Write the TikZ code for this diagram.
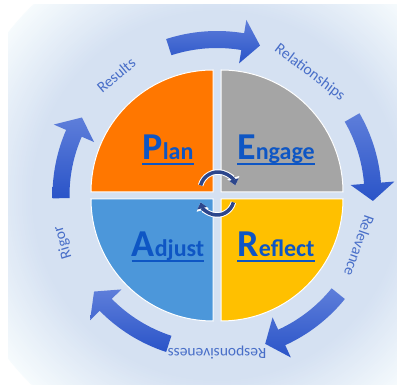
\documentclass[tikz,border=0pt]{standalone}
\usepackage{fontspec}
\usetikzlibrary{arrows.meta}
\newfontfamily\carlito{Carlito}
\definecolor{plancol}{RGB}{255,119,0}
\definecolor{engagecol}{RGB}{165,165,165}
\definecolor{adjustcol}{RGB}{76,151,218}
\definecolor{reflectcol}{RGB}{255,192,0}
\definecolor{wordblue}{RGB}{14,86,196}
\definecolor{lblblue}{RGB}{72,110,200}
\definecolor{arrtop}{RGB}{94,126,218}
\definecolor{arrbot}{RGB}{42,84,200}
\definecolor{turncol}{RGB}{44,70,140}
\definecolor{glowin}{RGB}{213,225,242}
\definecolor{glowout}{RGB}{246,251,253}
\newcommand\bigword[2]{{\fontsize{38}{38}\selectfont #1}{\fontsize{24}{24}\selectfont #2}}
\begin{document}
\begin{tikzpicture}[x=1pt,y=1pt,
  quad/.style={draw=white,line width=1pt},
  bigarrow/.style={top color=arrtop,bottom color=arrbot},
  lbl/.style={text=lblblue,font=\carlito\fontsize{15.5}{15.5}\selectfont,inner sep=0pt},
  word/.style={text=wordblue,font=\carlito\bfseries,inner sep=0pt,anchor=base},
  uline/.style={wordblue,line width=2pt},
  turnhalo/.style={white,line width=5.5pt,-{Triangle[length=8pt,width=12pt]}},
  turn/.style={turncol,line width=3.5pt,-{Triangle[length=6pt,width=9.5pt]}}]
 \useasboundingbox (0,0) rectangle (397,385);
 \fill[white] (0,0) rectangle (397,385);
 \coordinate (c) at (217,189.5);
 \begin{scope}
 \clip (8,0) rectangle (397,380);
 \foreach \i in {0,...,40}{
  \pgfmathsetmacro\r{265-2*\i}
  \pgfmathsetmacro\p{100*\i/40}
  \fill[glowin!\p!glowout] (c) circle (\r);
 }
 \end{scope}
 \draw[quad,fill=plancol] (213,193) -- ++(-122,0) arc[start angle=180,end angle=90,radius=122] -- cycle;
 \draw[quad,fill=engagecol] (221,193) -- ++(0,122) arc[start angle=90,end angle=0,radius=122] -- cycle;
 \draw[quad,fill=adjustcol] (213,186) -- ++(0,-122) arc[start angle=270,end angle=180,radius=122] -- cycle;
 \draw[quad,fill=reflectcol] (221,186) -- ++(122,0) arc[start angle=0,end angle=-90,radius=122] -- cycle;
 \begin{scope}[shift={(c)}]
 \foreach \s/\e in {108/74,30/-2,-39/-72,-108/-142,181/150}
  \shade[bigarrow] (\s:164.5) arc[start angle=\s,end angle=\e+6.5,radius=164.5] -- ({\e+6.5}:178) -- (\e:156) -- ({\e+6.5}:134) -- ({\e+6.5}:147.5) arc[start angle=\e+6.5,end angle=\s,radius=147.5] -- cycle;
 \foreach \a/\r/\t/\n in {130/157/Results/results,53/154/Relationships/relationships,-19.5/151/Relevance/relevance,-90/157/Responsiveness/responsiveness,-163/161/Rigor/rigor}
  \node[lbl,rotate=\a-90] (\n) at (\a:\r) {\t};
 \end{scope}
 \node[word] (plan) at (168,225) {\bigword{P}{lan}};
 \node[word] (engage) at (276,225) {\bigword{E}{ngage}};
 \node[word] (adjust) at (168,128) {\bigword{A}{djust}};
 \node[word] (reflect) at (276,128) {\bigword{R}{eflect}};
 \foreach \n in {plan,engage,adjust,reflect}
  \draw[uline] ([yshift=-4pt]\n.base west) -- ([yshift=-4pt]\n.base east);
 \draw[turnhalo] (218,195) ++(165:18) arc[start angle=165,end angle=15,radius=18];
 \draw[turn] (218,195) ++(165:18) arc[start angle=165,end angle=15,radius=18];
 \draw[turnhalo] (217,187) ++(-15:17) arc[start angle=-15,end angle=-165,radius=17];
 \draw[turn] (217,187) ++(-15:17) arc[start angle=-15,end angle=-165,radius=17];
\end{tikzpicture}
\end{document}
